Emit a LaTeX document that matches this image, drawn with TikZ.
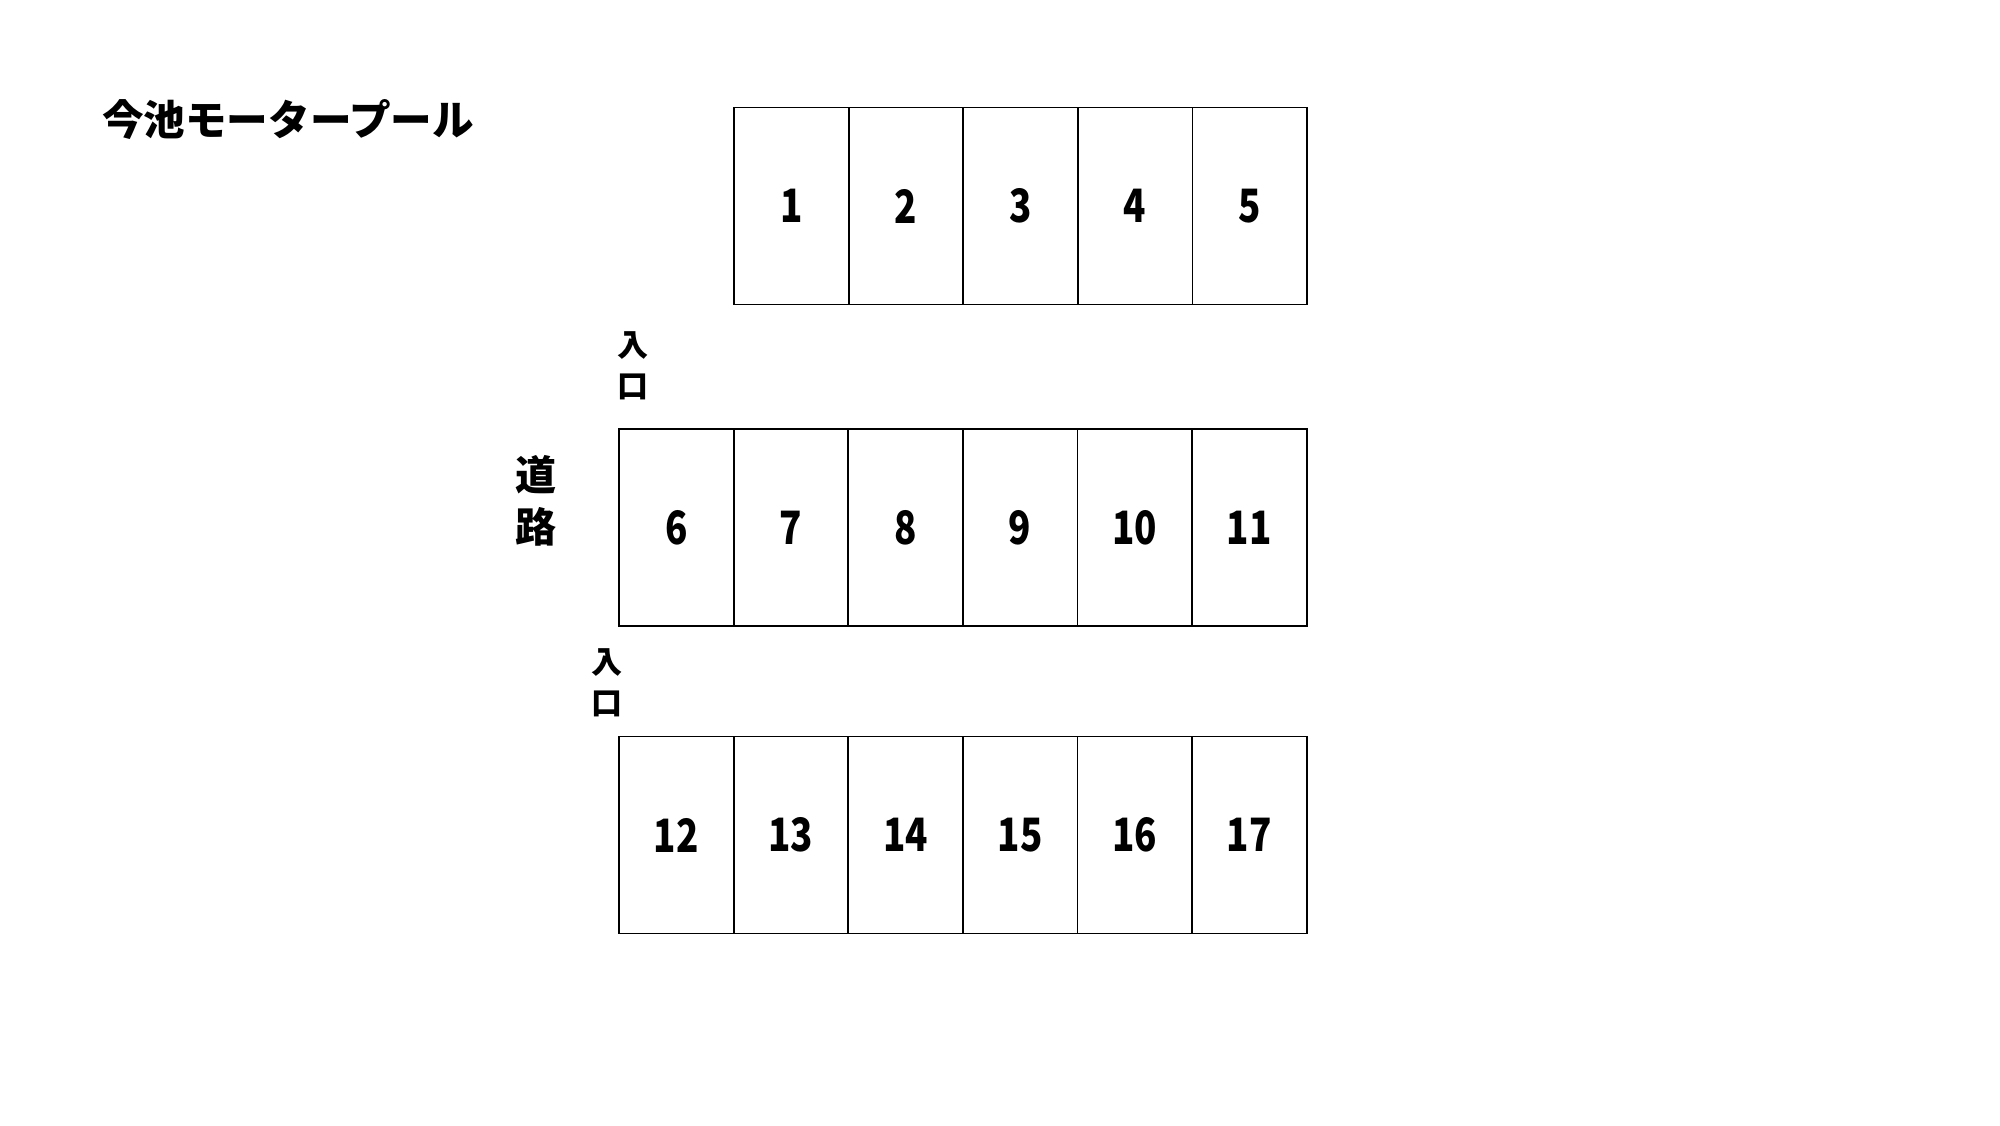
\documentclass[tikz,border=0pt]{standalone}
\usepackage{fontspec}
\newfontfamily\jp{Noto Sans CJK JP}
\newfontfamily\jpnum{Noto Sans CJK JP}[FakeStretch=0.8]
\begin{document}
\begin{tikzpicture}[x=0.5pt,y=-0.5pt,
  stall/.style={draw, line width=0.9pt, minimum width=57.3pt, minimum height=98.5pt, inner sep=0pt, font=\jpnum\bfseries\fontsize{23}{26}\selectfont},
  title/.style={inner sep=0pt, font=\jp\bfseries\fontsize{20.8}{24}\selectfont},
  road/.style={inner sep=0pt, align=center, font=\jp\bfseries\fontsize{20.5}{26}\selectfont},
  gate/.style={inner sep=0pt, align=center, font=\jp\bfseries\fontsize{15.5}{20.5}\selectfont}]
\fill[white] (0,0) rectangle (2000,1125);
\useasboundingbox (0,0) rectangle (2000,1125);
\node[title] (t) at (288,119.5) {今池モータープール};
\foreach \n [count=\i from 0] in {1,...,5}
  \node[stall] (s\n) at (734+57.3+\i*114.6,206) {\n};
\foreach \n [count=\i from 0] in {6,...,11}
  \node[stall] (s\n) at (619+57.3+\i*114.6,527.5) {\n};
\foreach \n [count=\i from 0] in {12,...,17}
  \node[stall] (s\n) at (619+57.3+\i*114.6,835) {\n};
\node[road] (road) at (536,501) {道\\路};
\node[gate] (g1) at (633,365.5) {入\\口};
\node[gate] (g2) at (607,682.5) {入\\口};
\end{tikzpicture}
\end{document}
